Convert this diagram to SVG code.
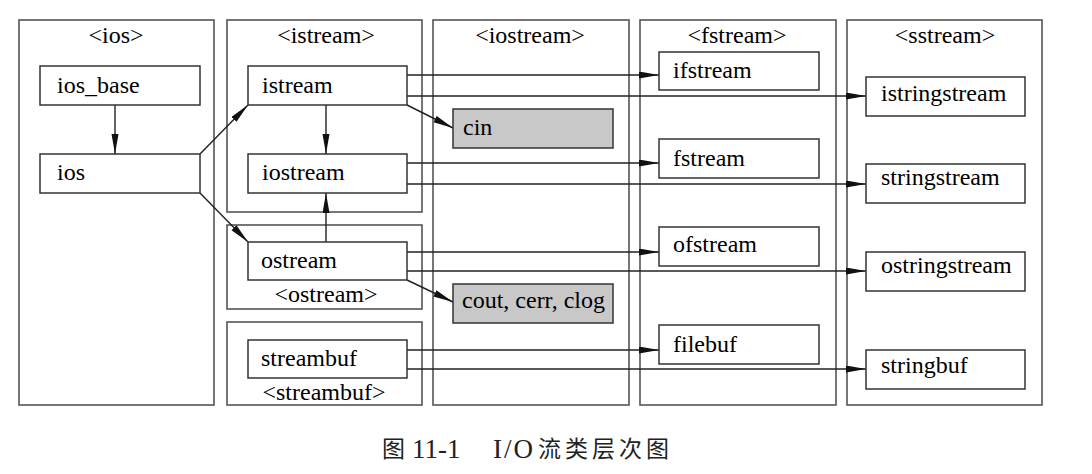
<svg xmlns="http://www.w3.org/2000/svg" width="1092" height="474" viewBox="0 0 1092 474">
<style>
.panel{fill:none;stroke:#555;stroke-width:1.6}
.box{fill:#fff;stroke:#333;stroke-width:1.5}
.gray{fill:#c8c8c8;stroke:#333;stroke-width:1.5}
text{font-family:"Liberation Serif","Times New Roman",serif;font-size:24px;fill:#000}
.hdr{text-anchor:middle}
.cap{font-family:"Noto Sans CJK SC","Liberation Serif",serif;font-size:23px;fill:#222}
.capl{font-family:"Liberation Serif","Times New Roman",serif;font-size:27px;fill:#222}
.cn{stroke:#222;stroke-width:1.4;fill:none;marker-end:url(#ah)}
</style>
<defs>
<marker id="ah" markerUnits="userSpaceOnUse" markerWidth="20" markerHeight="8" refX="20" refY="3.5" orient="auto">
<path d="M0,0 L20,3.5 L0,7 z" fill="#111"/>
</marker>
</defs>
<rect width="1092" height="474" fill="#fff"/>

<g id="panel-ios"><rect class="panel" x="19" y="20" width="195" height="385"/><text class="hdr" x="116" y="43">&lt;ios&gt;</text></g>
<g id="panel-istream"><rect class="panel" x="227" y="20" width="195" height="192"/><text class="hdr" x="326" y="43">&lt;istream&gt;</text></g>
<g id="panel-ostream"><rect class="panel" x="227" y="225" width="195" height="84"/><text class="hdr" x="326" y="302">&lt;ostream&gt;</text></g>
<g id="panel-streambuf"><rect class="panel" x="227" y="322" width="195" height="83"/><text class="hdr" x="324" y="400">&lt;streambuf&gt;</text></g>
<g id="panel-iostream"><rect class="panel" x="433" y="20" width="196" height="385"/><text class="hdr" x="530" y="43">&lt;iostream&gt;</text></g>
<g id="panel-fstream"><rect class="panel" x="640" y="20" width="196" height="385"/><text class="hdr" x="737" y="43">&lt;fstream&gt;</text></g>
<g id="panel-sstream"><rect class="panel" x="847" y="20" width="195" height="385"/><text class="hdr" x="945" y="43">&lt;sstream&gt;</text></g>

<g id="connectors">
<line class="cn" x1="115" y1="105" x2="115" y2="154"/>
<line class="cn" x1="200" y1="154" x2="248" y2="105"/>
<line class="cn" x1="200" y1="193" x2="248" y2="242"/>
<line class="cn" x1="326" y1="105" x2="326" y2="154"/>
<line class="cn" x1="326" y1="242" x2="326" y2="193"/>
<line class="cn" x1="407" y1="105" x2="453" y2="128"/>
<line class="cn" x1="407" y1="280" x2="453" y2="302"/>
<line class="cn" x1="407" y1="75" x2="659" y2="75"/>
<line class="cn" x1="407" y1="96" x2="866" y2="96"/>
<line class="cn" x1="407" y1="163" x2="659" y2="163"/>
<line class="cn" x1="407" y1="184" x2="866" y2="184"/>
<line class="cn" x1="407" y1="252" x2="659" y2="252"/>
<line class="cn" x1="407" y1="271" x2="866" y2="271"/>
<line class="cn" x1="407" y1="350" x2="659" y2="350"/>
<line class="cn" x1="407" y1="369" x2="866" y2="369"/>
</g>

<g id="ios_base"><rect class="box" x="40" y="66" width="160" height="39"/><text x="57" y="93">ios_base</text></g>
<g id="ios"><rect class="box" x="40" y="154" width="160" height="39"/><text x="57" y="180">ios</text></g>
<g id="istream"><rect class="box" x="248" y="66" width="159" height="39"/><text x="262" y="93">istream</text></g>
<g id="iostream"><rect class="box" x="248" y="154" width="159" height="39"/><text x="262" y="180">iostream</text></g>
<g id="ostream"><rect class="box" x="248" y="242" width="159" height="38"/><text x="261" y="268">ostream</text></g>
<g id="streambuf"><rect class="box" x="248" y="340" width="159" height="38"/><text x="261" y="366">streambuf</text></g>
<g id="cin"><rect class="gray" x="453" y="109" width="160" height="39"/><text x="463" y="135">cin</text></g>
<g id="cout"><rect class="gray" x="453" y="284" width="160" height="39"/><text x="462" y="308">cout, cerr, clog</text></g>
<g id="ifstream"><rect class="box" x="659" y="52" width="160" height="38"/><text x="673" y="78">ifstream</text></g>
<g id="fstream"><rect class="box" x="659" y="139" width="160" height="39"/><text x="673" y="166">fstream</text></g>
<g id="ofstream"><rect class="box" x="659" y="227" width="160" height="39"/><text x="673" y="252">ofstream</text></g>
<g id="filebuf"><rect class="box" x="659" y="325" width="160" height="39"/><text x="673" y="352">filebuf</text></g>
<g id="istringstream"><rect class="box" x="866" y="77" width="159" height="39"/><text x="881" y="101">istringstream</text></g>
<g id="stringstream"><rect class="box" x="866" y="164" width="159" height="39"/><text x="881" y="185">stringstream</text></g>
<g id="ostringstream"><rect class="box" x="866" y="252" width="159" height="39"/><text x="881" y="273">ostringstream</text></g>
<g id="stringbuf"><rect class="box" x="866" y="350" width="159" height="39"/><text x="881" y="373">stringbuf</text></g>

<g id="caption">
<text class="cap" x="382" y="457">图</text>
<text class="capl" x="412" y="458">11-1</text>
<text class="capl" x="493" y="458" letter-spacing="2">I/O</text>
<text class="cap" x="538" y="457" letter-spacing="4">流类层次图</text>
</g>
</svg>
